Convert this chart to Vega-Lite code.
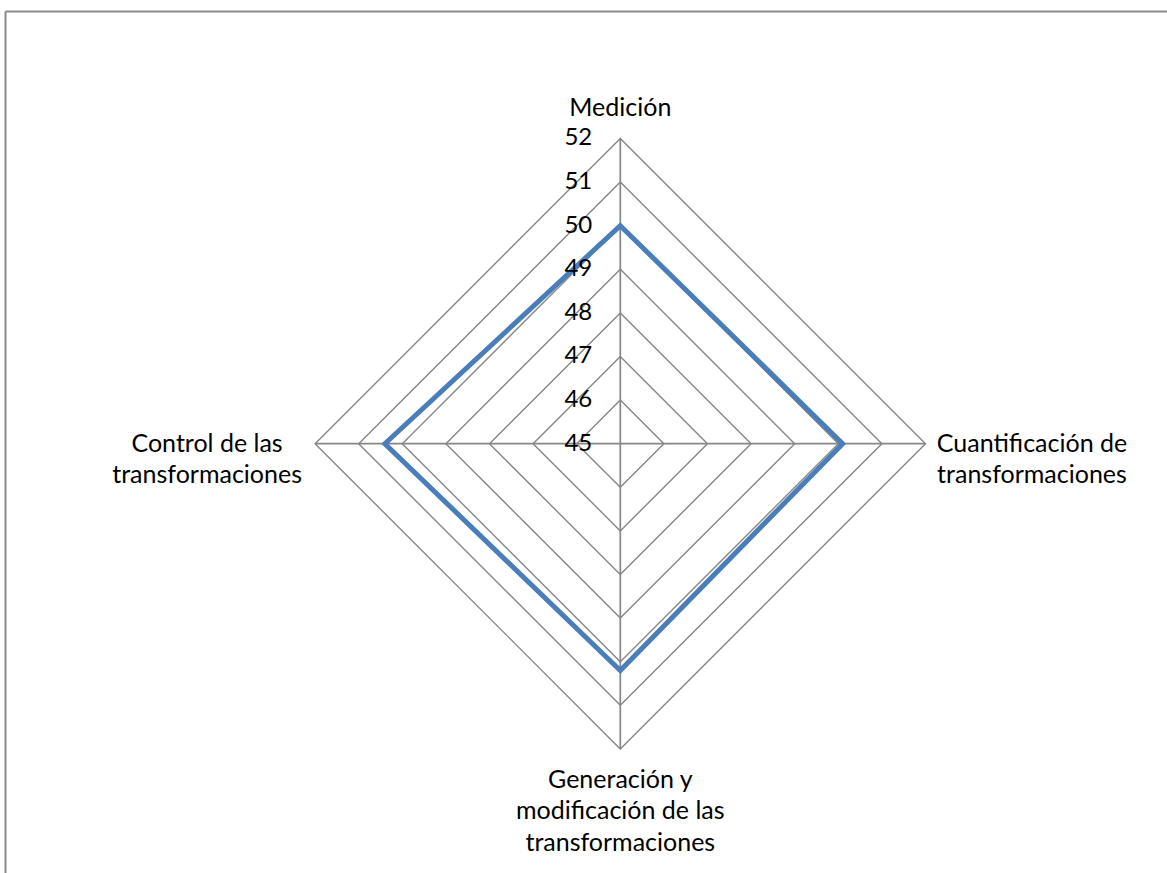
{
  "$schema": "https://vega.github.io/schema/vega-lite/v6.json",
  "autosize": "none",
  "width": 1162,
  "height": 862,
  "padding": {"left": 5, "top": 11, "right": 0, "bottom": 0},
  "background": "white",
  "config": {
    "view": {"stroke": null},
    "text": {"font": "Lato", "fontSize": 25, "color": "#000000", "lineBreak": "\n", "lineHeight": 31.5}
  },
  "datasets": {
    "cats": [
      {"idx": 0, "cat": "Medición", "value": 50},
      {"idx": 1, "cat": "Cuantificación de\ntransformaciones", "value": 50.1},
      {"idx": 2, "cat": "Generación y\nmodificación de las\ntransformaciones", "value": 50.2},
      {"idx": 3, "cat": "Control de las\ntransformaciones", "value": 50.4}
    ],
    "rings": [
      {"ring": 46, "idx": 0}, {"ring": 46, "idx": 1}, {"ring": 46, "idx": 2}, {"ring": 46, "idx": 3},
      {"ring": 47, "idx": 0}, {"ring": 47, "idx": 1}, {"ring": 47, "idx": 2}, {"ring": 47, "idx": 3},
      {"ring": 48, "idx": 0}, {"ring": 48, "idx": 1}, {"ring": 48, "idx": 2}, {"ring": 48, "idx": 3},
      {"ring": 49, "idx": 0}, {"ring": 49, "idx": 1}, {"ring": 49, "idx": 2}, {"ring": 49, "idx": 3},
      {"ring": 50, "idx": 0}, {"ring": 50, "idx": 1}, {"ring": 50, "idx": 2}, {"ring": 50, "idx": 3},
      {"ring": 51, "idx": 0}, {"ring": 51, "idx": 1}, {"ring": 51, "idx": 2}, {"ring": 51, "idx": 3},
      {"ring": 52, "idx": 0}, {"ring": 52, "idx": 1}, {"ring": 52, "idx": 2}, {"ring": 52, "idx": 3}
    ],
    "ticks": [
      {"tick": 45}, {"tick": 46}, {"tick": 47}, {"tick": 48},
      {"tick": 49}, {"tick": 50}, {"tick": 51}, {"tick": 52}
    ]
  },
  "encoding": {
    "x": {
      "field": "x", "type": "quantitative",
      "scale": {"domain": [-14.112, 12.539], "nice": false, "zero": false},
      "axis": {"orient": "top", "labels": false, "ticks": false, "grid": false, "title": null, "domain": true, "domainColor": "#8a8a8a", "domainWidth": 2}
    },
    "y": {
      "field": "y", "type": "quantitative",
      "scale": {"domain": [-9.846, 9.924], "nice": false, "zero": false},
      "axis": {"orient": "left", "labels": false, "ticks": false, "grid": false, "title": null, "domain": true, "domainColor": "#8a8a8a", "domainWidth": 2}
    }
  },
  "layer": [
    {
      "data": {"name": "rings"},
      "transform": [
        {"calculate": "datum.idx * PI / 2", "as": "a"},
        {"calculate": "(datum.ring - 45) * sin(datum.a)", "as": "x"},
        {"calculate": "(datum.ring - 45) * cos(datum.a)", "as": "y"}
      ],
      "mark": {"type": "line", "interpolate": "linear-closed", "color": "#868686", "strokeWidth": 1.4},
      "encoding": {
        "detail": {"field": "ring", "type": "nominal"},
        "order": {"field": "idx", "type": "quantitative"}
      }
    },
    {
      "data": {"name": "cats"},
      "transform": [
        {"calculate": "datum.idx * PI / 2", "as": "a"},
        {"calculate": "0", "as": "x"},
        {"calculate": "0", "as": "y"},
        {"calculate": "7 * sin(datum.a)", "as": "sx"},
        {"calculate": "7 * cos(datum.a)", "as": "sy"}
      ],
      "mark": {"type": "rule", "color": "#868686", "strokeWidth": 1.7},
      "encoding": {
        "x2": {"field": "sx"},
        "y2": {"field": "sy"}
      }
    },
    {
      "data": {"name": "cats"},
      "transform": [
        {"calculate": "datum.idx * PI / 2", "as": "a"},
        {"calculate": "(datum.value - 45) * sin(datum.a)", "as": "x"},
        {"calculate": "(datum.value - 45) * cos(datum.a)", "as": "y"}
      ],
      "mark": {"type": "line", "interpolate": "linear-closed", "color": "#4a7ebb", "strokeWidth": 5, "strokeJoin": "miter"},
      "encoding": {
        "order": {"field": "idx", "type": "quantitative"}
      }
    },
    {
      "data": {"name": "ticks"},
      "transform": [
        {"calculate": "0", "as": "x"},
        {"calculate": "datum.tick - 45", "as": "y"}
      ],
      "mark": {"type": "text", "align": "right", "baseline": "middle", "dx": -28, "fontSize": 24},
      "encoding": {"text": {"field": "tick", "type": "quantitative"}}
    },
    {
      "data": {"name": "cats"},
      "transform": [
        {"filter": "datum.idx == 0"},
        {"calculate": "0", "as": "x"},
        {"calculate": "7", "as": "y"}
      ],
      "mark": {"type": "text", "align": "center", "baseline": "alphabetic", "dy": -22},
      "encoding": {"text": {"field": "cat", "type": "nominal"}}
    },
    {
      "data": {"name": "cats"},
      "transform": [
        {"filter": "datum.idx == 1"},
        {"calculate": "7", "as": "x"},
        {"calculate": "0", "as": "y"}
      ],
      "mark": {"type": "text", "align": "center", "baseline": "middle", "dx": 106.5},
      "encoding": {"text": {"field": "cat", "type": "nominal"}}
    },
    {
      "data": {"name": "cats"},
      "transform": [
        {"filter": "datum.idx == 2"},
        {"calculate": "0", "as": "x"},
        {"calculate": "-7", "as": "y"}
      ],
      "mark": {"type": "text", "align": "center", "baseline": "alphabetic", "dy": 38.7},
      "encoding": {"text": {"field": "cat", "type": "nominal"}}
    },
    {
      "data": {"name": "cats"},
      "transform": [
        {"filter": "datum.idx == 3"},
        {"calculate": "-7", "as": "x"},
        {"calculate": "0", "as": "y"}
      ],
      "mark": {"type": "text", "align": "center", "baseline": "middle", "dx": -108},
      "encoding": {"text": {"field": "cat", "type": "nominal"}}
    }
  ]
}
